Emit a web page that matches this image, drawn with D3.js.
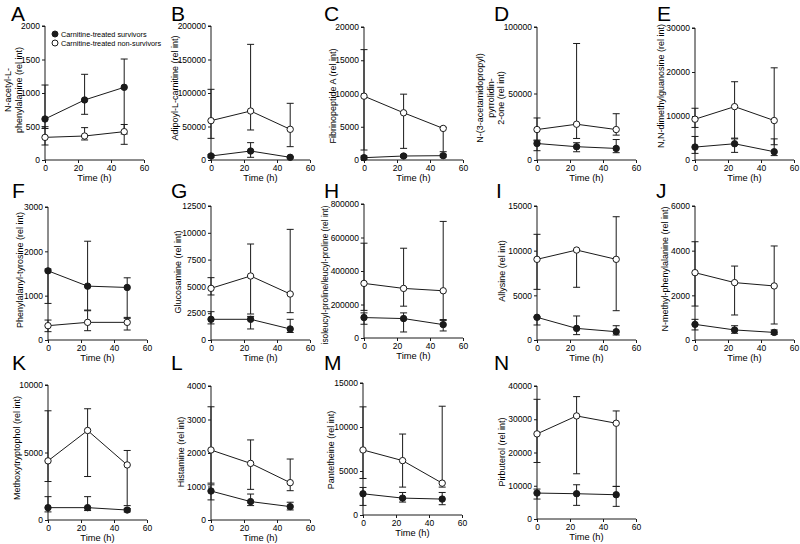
<!DOCTYPE html>
<html>
<head>
<meta charset="utf-8">
<script src="https://cdn.jsdelivr.net/npm/d3@7"></script>
<style>
  body { margin: 0; background: #fff; }
  svg { display: block; font-family: "Liberation Sans", Arial, sans-serif; }
</style>
</head>
<body>
<svg id="chart" width="800" height="544"></svg>
<script>
// time points (h)
var times = [0, 24, 48]
var xTicks = [0, 20, 40, 60]

var letters = ["A","B","C","D","E","F","G","H","I","J","K","L","M","N"]
var yLabels = [
  ["N-acetyl-L-", "phenylalanine (rel int)"],
  ["Adipoyl-L-carnitine (rel int)"],
  ["Fibrinopeptide A (rel int)"],
  ["N-(3-acetamidopropyl)", "pyrrolidin-", "2-one (rel int)"],
  ["N,N-dimethylguanosine (rel int)"],
  ["Phenylalanyl-tyrosine (rel int)"],
  ["Glucosamine (rel int)"],
  ["isoleucyl-proline/leucyl-proline (rel int)"],
  ["Allysine (rel int)"],
  ["N-methyl-phenylalanine (rel int)"],
  ["Methoxytryptophol (rel int)"],
  ["Histamine (rel int)"],
  ["Pantetheine (rel int)"],
  ["Pirbuterol (rel int)"]
]
var yMax  = [2000, 200000, 20000, 100000, 30000, 3000, 12500, 800000, 15000, 6000, 10000, 4000, 15000, 40000]
var yStep = [500, 50000, 5000, 50000, 10000, 1000, 2500, 200000, 5000, 2000, 5000, 1000, 5000, 10000]

// Carnitine-treated survivors (filled)
var survMean = [
  [612, 896, 1085], [6000, 13400, 4000], [350, 600, 650], [12400, 10000, 8700], [2940, 3690, 1880],
  [1560, 1215, 1185], [1930, 1930, 1030], [122000, 116000, 80000], [2540, 1300, 930], [700, 450, 340],
  [915, 915, 740], [865, 550, 400], [2410, 1920, 1810], [7800, 7600, 7300]
]
var survLow = [
  [470, 682, 388], [4000, 4000, 3000], [100, 400, 450], [7000, 6200, 5500], [1500, 1730, 1000],
  [825, 675, 488], [1500, 1030, 700], [82000, 36000, 42000], [1680, 600, 560], [450, 300, 250],
  [600, 700, 600], [600, 430, 300], [1090, 1470, 1170], [6000, 4100, 3800]
]
var survHigh = [
  [1119, 1279, 1507], [8000, 25900, 5000], [600, 800, 850], [14400, 13000, 15400], [5350, 4800, 4800],
  [1600, 2228, 1403], [2640, 2200, 1930], [150000, 150000, 110000], [2600, 2690, 1600], [925, 640, 450],
  [1730, 1730, 850], [1050, 775, 530], [3130, 2560, 2560], [9000, 10300, 9800]
]

// Carnitine-treated non-survivors (open)
var nonMean = [
  [338, 358, 423], [58700, 73100, 45800], [9600, 7100, 4750], [22900, 26900, 22900], [9270, 12130, 8970],
  [323, 398, 398], [4820, 5970, 4290], [326000, 296000, 282000], [9030, 10070, 9030], [3015, 2570, 2420],
  [4380, 6630, 4080], [2090, 1690, 1115], [7390, 6180, 3620], [25600, 31000, 28800]
]
var nonLow = [
  [224, 299, 234], [32300, 44800, 19900], [1500, 1750, 1250], [15000, 16200, 18700], [7400, 4970, 3470],
  [188, 210, 225], [4200, 2425, 2550], [165000, 190000, 105000], [5670, 5900, 3280], [1520, 1120, 716],
  [2850, 3220, 1065], [1100, 915, 875], [4150, 3170, 3170], [17000, 13600, 9800]
]
var nonHigh = [
  [497, 483, 530], [105500, 172600, 84600], [16600, 9900, 4900], [31600, 87600, 34800], [11760, 17790, 20950],
  [450, 660, 510], [5815, 8955, 10320], [566000, 536000, 696000], [11830, 10100, 13800], [4400, 3310, 4210],
  [8090, 8240, 5150], [3380, 2390, 1820], [12290, 9200, 12360], [36000, 36800, 32500]
]

// layout
var axisX    = [45, 211, 364, 537, 695, 48, 211, 364, 537, 695, 48, 211, 363, 537]
var axisTop  = [26, 26, 27, 27, 28, 207, 206, 204, 206, 206, 385, 386, 383, 386]
var axisBot  = [160, 160, 160, 160, 160, 340, 340, 338, 340, 340, 520, 520, 515, 519]
var titleX   = [8, 175, 333, 480, 661, 20, 178, 325, 502, 665, 17, 181, 331, 502]
var titleY   = [90, 88, 96, 98, 86, 270, 272, 275, 271, 269, 448, 452, 450, 452]
var titleFs  = [9, 9, 9, 9, 9, 9, 9, 8.3, 9, 9, 9, 9, 9, 9]
var letterX  = [11, 171, 324, 494, 657, 12, 171, 324, 496, 656, 12, 171, 324, 494]
var letterY  = [21, 21, 21, 21, 21, 198, 198, 198, 198, 198, 370, 370, 370, 370]
var plotW = 99
var ink = "#1a1a1a"

var svg = d3.select("#chart")

letters.forEach(function(letter, p) {
  var g = svg.append("g")
  var x = d3.scaleLinear().domain([0, 60]).range([axisX[p], axisX[p] + plotW])
  var y = d3.scaleLinear().domain([0, yMax[p]]).range([axisBot[p], axisTop[p]])

  // panel letter
  g.append("text").attr("x", letterX[p]).attr("y", letterY[p])
    .attr("font-size", 21).attr("fill", "#000").text(letter)

  // axes
  var yAxis = d3.axisLeft(y).tickValues(d3.range(0, yMax[p] + 1, yStep[p]))
    .tickSize(3).tickPadding(2).tickFormat(d3.format("d"))
  var ga = g.append("g").attr("transform", "translate(" + axisX[p] + ",0)").call(yAxis)
  var xAxis = d3.axisBottom(x).tickValues(xTicks).tickSize(3).tickPadding(2)
  var gx = g.append("g").attr("transform", "translate(0," + axisBot[p] + ")").call(xAxis)
  ;[ga, gx].forEach(function(a) {
    a.select(".domain").attr("stroke", ink)
    a.selectAll(".tick line").attr("stroke", ink)
    a.selectAll(".tick text").attr("font-size", 8.5).attr("fill", "#000")
      .attr("font-family", "Liberation Sans, Arial, sans-serif")
  })
  ga.select(".domain").attr("d", "M0," + axisBot[p] + "V" + axisTop[p] + "h-3")
  gx.select(".domain").attr("d", "M" + axisX[p] + ",0H" + (axisX[p] + plotW))

  // x title
  g.append("text").attr("x", x(30)).attr("y", axisBot[p] + 21)
    .attr("text-anchor", "middle").attr("font-size", 9.3).text("Time (h)")

  // y title
  var t = g.append("text").attr("transform", "translate(" + titleX[p] + "," + titleY[p] + ") rotate(-90)")
    .attr("text-anchor", "middle").attr("font-size", titleFs[p])
  yLabels[p].forEach(function(line, i) {
    t.append("tspan").attr("x", 0).attr("y", i * 10.5).attr("dy", "0.35em").text(line)
  })

  var series = [
    { mean: nonMean[p], low: nonLow[p], high: nonHigh[p], fill: "#fff" },
    { mean: survMean[p], low: survLow[p], high: survHigh[p], fill: ink }
  ]
  var line = d3.line().x(function(d, i) { return x(times[i]) }).y(function(d) { return y(d) })

  series.forEach(function(s) {
    g.append("path").attr("d", line(s.mean)).attr("fill", "none").attr("stroke", ink).attr("stroke-width", 1)
    times.forEach(function(tm, i) {
      var lo = y(Math.max(0, s.low[i])), hi = y(s.high[i]), cx = x(tm)
      g.append("path").attr("fill", "none").attr("stroke", ink).attr("stroke-width", 1)
        .attr("d", "M" + cx + "," + lo + "V" + hi + "M" + (cx - 3.5) + "," + hi + "h7M" + (cx - 3.5) + "," + lo + "h7")
    })
  })
  series.forEach(function(s) {
    g.selectAll(null).data(s.mean).enter().append("circle")
      .attr("cx", function(d, i) { return x(times[i]) })
      .attr("cy", function(d) { return y(d) })
      .attr("r", 3.2).attr("fill", s.fill).attr("stroke", ink).attr("stroke-width", 1)
  })
})

// legend in panel A
var legend = [
  { name: "Carnitine-treated survivors", fill: ink },
  { name: "Carnitine-treated non-survivors", fill: "#fff" }
]
legend.forEach(function(l, i) {
  svg.append("circle").attr("cx", 55).attr("cy", 34 + i * 9).attr("r", 3)
    .attr("fill", l.fill).attr("stroke", ink)
  svg.append("text").attr("x", 61).attr("y", 34 + i * 9).attr("dy", "0.35em")
    .attr("font-size", 7.3).text(l.name)
})
</script>
</body>
</html>
